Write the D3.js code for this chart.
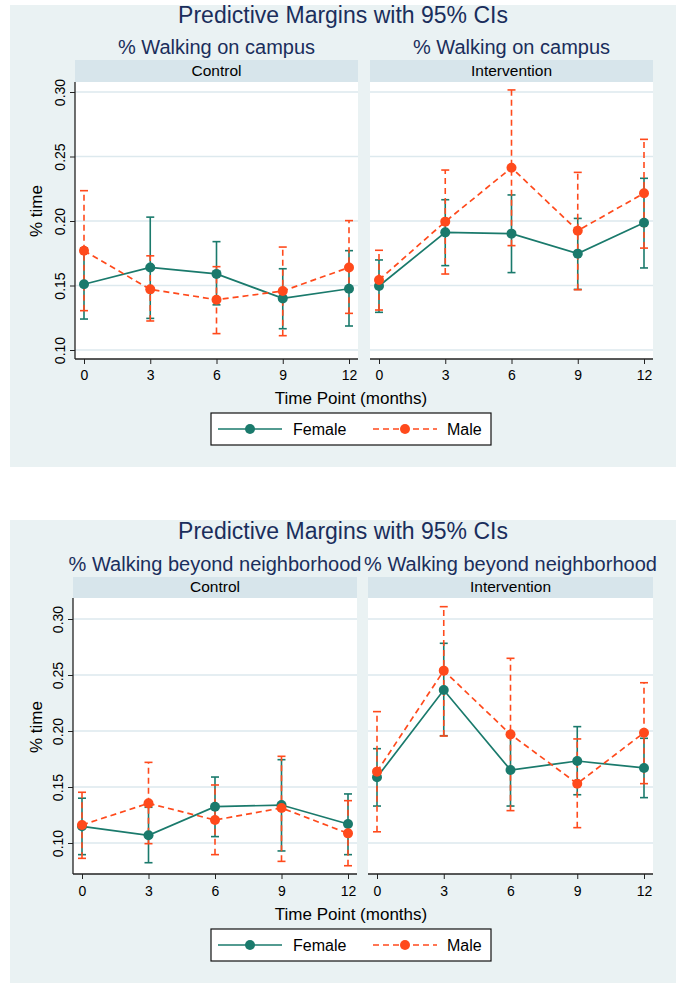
<!DOCTYPE html>
<html>
<head>
<meta charset="utf-8">
<script src="https://cdn.jsdelivr.net/npm/d3@7"></script>
<style>
  html, body { margin: 0; padding: 0; background: #ffffff; }
  svg { display: block; }
  text { font-family: "Liberation Sans", Arial, sans-serif; }
</style>
</head>
<body>
<svg id="chart" width="683" height="990"></svg>
<script>
// ---------- DATA ----------
const times = [0, 3, 6, 9, 12];
const yTicks = [0.10, 0.15, 0.20, 0.25, 0.30];
const panels = ["Control", "Intervention"];
const seriesNames = ["Female", "Male"];
const mainTitle = "Predictive Margins with 95% CIs";
const outcomeTitles = ["% Walking on campus", "% Walking beyond neighborhood"];
const yLabel = "% time";
const xLabel = "Time Point (months)";

// % Walking on campus – Control
const campusCtrlFemale   = [0.151, 0.164, 0.159, 0.140, 0.1475];
const campusCtrlFemaleLo = [0.124, 0.1245, 0.135, 0.1165, 0.1186];
const campusCtrlFemaleHi = [0.179, 0.203, 0.184, 0.163, 0.177];
const campusCtrlMale     = [0.177, 0.147, 0.139, 0.1457, 0.164];
const campusCtrlMaleLo   = [0.1305, 0.1225, 0.1127, 0.1111, 0.1284];
const campusCtrlMaleHi   = [0.2235, 0.173, 0.1646, 0.1798, 0.2003];
// % Walking on campus – Intervention
const campusIntFemale    = [0.1496, 0.1912, 0.1902, 0.1747, 0.1987];
const campusIntFemaleLo  = [0.1292, 0.1654, 0.160, 0.147, 0.1636];
const campusIntFemaleHi  = [0.1698, 0.2165, 0.2202, 0.202, 0.2331];
const campusIntMale      = [0.1543, 0.1995, 0.2413, 0.1925, 0.2215];
const campusIntMaleLo    = [0.131, 0.1589, 0.1809, 0.1467, 0.179];
const campusIntMaleHi    = [0.1773, 0.2395, 0.3016, 0.2377, 0.2633];
// % Walking beyond neighborhood – Control
const beyondCtrlFemale   = [0.1149, 0.1069, 0.1324, 0.1339, 0.117];
const beyondCtrlFemaleLo = [0.0896, 0.0824, 0.1057, 0.0929, 0.0896];
const beyondCtrlFemaleHi = [0.140, 0.1319, 0.1589, 0.1744, 0.1438];
const beyondCtrlMale     = [0.1161, 0.1354, 0.1205, 0.1313, 0.1086];
const beyondCtrlMaleLo   = [0.0863, 0.0994, 0.0896, 0.0836, 0.0797];
const beyondCtrlMaleHi   = [0.1453, 0.172, 0.1518, 0.1774, 0.1378];
// % Walking beyond neighborhood – Intervention
const beyondIntFemale    = [0.1587, 0.2366, 0.1652, 0.1732, 0.167];
const beyondIntFemaleLo  = [0.133, 0.1958, 0.133, 0.1431, 0.1405];
const beyondIntFemaleHi  = [0.1842, 0.2783, 0.197, 0.2039, 0.1935];
const beyondIntMale      = [0.1637, 0.2539, 0.197, 0.153, 0.1985];
const beyondIntMaleLo    = [0.110, 0.1955, 0.1289, 0.1137, 0.153];
const beyondIntMaleHi    = [0.2173, 0.311, 0.2649, 0.1929, 0.2431];

// ---------- STYLE ----------
const BG = "#eaf2f3", STRIP = "#d7e5eb", GRID = "#dde9ee";
const TITLE_COL = "#1a2e5c";
const COLORS = { Female: "#1a7a6c", Male: "#ff4a1c" };
const DASH = { Female: null, Male: "6,4" };

const svg = d3.select("#chart");

function series(v, lo, hi) { return times.map((t, i) => ({ t, v: v[i], lo: lo[i], hi: hi[i] })); }

const charts = [
  {
    top: 5, bottom: 467, title: outcomeTitles[0],
    titleY: 23, subY: 54, stripY0: 60, stripY1: 82, stripTextY: 76,
    plotY0: 82, plotY1: 359, y10: 350, y30: 92,
    panelsX: [[75, 358], [370, 653]],
    tickLabY: 380, xLabY: 404, yLabY: 211, legY: 413,
    data: [
      { Female: series(campusCtrlFemale, campusCtrlFemaleLo, campusCtrlFemaleHi),
        Male: series(campusCtrlMale, campusCtrlMaleLo, campusCtrlMaleHi) },
      { Female: series(campusIntFemale, campusIntFemaleLo, campusIntFemaleHi),
        Male: series(campusIntMale, campusIntMaleLo, campusIntMaleHi) }
    ]
  },
  {
    top: 520, bottom: 983, title: outcomeTitles[1],
    titleY: 538.5, subY: 571, stripY0: 577, stripY1: 598, stripTextY: 592,
    plotY0: 598, plotY1: 874, y10: 843, y30: 619,
    panelsX: [[73, 357], [368, 653]],
    tickLabY: 896, xLabY: 920, yLabY: 727, legY: 929,
    data: [
      { Female: series(beyondCtrlFemale, beyondCtrlFemaleLo, beyondCtrlFemaleHi),
        Male: series(beyondCtrlMale, beyondCtrlMaleLo, beyondCtrlMaleHi) },
      { Female: series(beyondIntFemale, beyondIntFemaleLo, beyondIntFemaleHi),
        Male: series(beyondIntMale, beyondIntMaleLo, beyondIntMaleHi) }
    ]
  }
];

charts.forEach(c => {
  const g = svg.append("g");
  g.append("rect").attr("x", 10).attr("y", c.top).attr("width", 666).attr("height", c.bottom - c.top).attr("fill", BG);

  g.append("text").attr("x", 343).attr("y", c.titleY).attr("text-anchor", "middle")
    .attr("font-size", 23).attr("fill", TITLE_COL).text(mainTitle);

  const y = d3.scaleLinear().domain([0.10, 0.30]).range([c.y10, c.y30]);

  panels.forEach((pName, pi) => {
    const [x0, x1] = c.panelsX[pi];
    const x = d3.scaleLinear().domain([0, 12]).range([x0 + 9, x1 - 9]);
    const cx = (x0 + x1) / 2;
    const pg = g.append("g");

    // outcome subtitle
    pg.append("text").attr("x", cx).attr("y", c.subY).attr("text-anchor", "middle")
      .attr("font-size", 20).attr("fill", TITLE_COL).text(c.title);
    // strip
    pg.append("rect").attr("x", x0).attr("y", c.stripY0).attr("width", x1 - x0).attr("height", c.stripY1 - c.stripY0).attr("fill", STRIP);
    pg.append("text").attr("x", cx).attr("y", c.stripTextY).attr("text-anchor", "middle")
      .attr("font-size", 15.5).attr("fill", "#000").text(pName);
    // plot area
    pg.append("rect").attr("x", x0).attr("y", c.plotY0).attr("width", x1 - x0).attr("height", c.plotY1 - c.plotY0).attr("fill", "#fff");
    // grid
    pg.selectAll("line.grid").data(yTicks).join("line").attr("class", "grid")
      .attr("x1", x0).attr("x2", x1).attr("y1", d => y(d)).attr("y2", d => y(d))
      .attr("stroke", GRID).attr("stroke-width", 1.5);

    // x axis
    const xa = pg.append("g").attr("transform", `translate(0,${c.plotY1})`)
      .call(d3.axisBottom(x).tickValues(times).tickSize(5).tickPadding(3).tickFormat(d3.format("d")));
    xa.select(".domain").attr("d", `M${x0},0H${x1}`).attr("stroke", "#222").attr("stroke-width", 1.3);
    xa.selectAll(".tick line").attr("stroke", "#222");
    xa.selectAll(".tick text").attr("font-size", 14).attr("fill", "#000")
      .attr("font-family", "Liberation Sans, Arial, sans-serif")
      .attr("dy", null).attr("y", c.tickLabY - c.plotY1);

    // y axis only on left panel
    if (pi === 0) {
      const ya = pg.append("g").attr("transform", `translate(${x0},0)`)
        .call(d3.axisLeft(y).tickValues(yTicks).tickSize(5).tickFormat(d3.format(".2f")));
      ya.select(".domain").attr("d", `M0,${c.plotY0}V${c.plotY1}`).attr("stroke", "#222").attr("stroke-width", 1.3);
      ya.selectAll(".tick line").attr("stroke", "#222");
      ya.selectAll(".tick text").attr("font-size", 14).attr("fill", "#000")
        .attr("font-family", "Liberation Sans, Arial, sans-serif")
        .attr("x", null).attr("dy", null)
        .attr("text-anchor", "middle")
        .attr("transform", "translate(-10,0) rotate(-90)");
      pg.append("text").attr("transform", `translate(42,${c.yLabY}) rotate(-90)`)
        .attr("text-anchor", "middle").attr("font-size", 17).attr("fill", "#000").text(yLabel);
    }

    const data = c.data[pi];
    // CIs
    seriesNames.forEach(s => {
      const cg = pg.append("g");
      data[s].forEach(d => {
        cg.append("line").attr("x1", x(d.t)).attr("x2", x(d.t)).attr("y1", y(d.lo)).attr("y2", y(d.hi))
          .attr("stroke", COLORS[s]).attr("stroke-width", 1.6).attr("stroke-dasharray", DASH[s]);
        [d.lo, d.hi].forEach(v => {
          cg.append("line").attr("x1", x(d.t) - 4).attr("x2", x(d.t) + 4).attr("y1", y(v)).attr("y2", y(v))
            .attr("stroke", COLORS[s]).attr("stroke-width", 1.6);
        });
      });
    });
    // lines + markers
    seriesNames.forEach(s => {
      const line = d3.line().x(d => x(d.t)).y(d => y(d.v));
      pg.append("path").datum(data[s]).attr("d", line).attr("fill", "none")
        .attr("stroke", COLORS[s]).attr("stroke-width", 1.7).attr("stroke-dasharray", DASH[s]);
      pg.selectAll(null).data(data[s]).join("circle")
        .attr("cx", d => x(d.t)).attr("cy", d => y(d.v)).attr("r", 5).attr("fill", COLORS[s]);
    });
  });

  // x label
  g.append("text").attr("x", 351).attr("y", c.xLabY).attr("text-anchor", "middle")
    .attr("font-size", 17).attr("fill", "#000").text(xLabel);

  // legend
  const lg = g.append("g").attr("transform", `translate(211,${c.legY})`);
  lg.append("rect").attr("x", 0).attr("y", 0).attr("width", 280).attr("height", 32)
    .attr("fill", "#fff").attr("stroke", "#111").attr("stroke-width", 1.2);
  const items = [{ s: "Female", lx: 7, tx: 82 }, { s: "Male", lx: 162, tx: 236 }];
  items.forEach(it => {
    lg.append("line").attr("x1", it.lx).attr("x2", it.lx + 64).attr("y1", 16).attr("y2", 16)
      .attr("stroke", COLORS[it.s]).attr("stroke-width", 1.7).attr("stroke-dasharray", DASH[it.s]);
    lg.append("circle").attr("cx", it.lx + 32).attr("cy", 16).attr("r", 5).attr("fill", COLORS[it.s]);
    lg.append("text").attr("x", it.tx).attr("y", 22).attr("font-size", 16).attr("fill", "#000").text(it.s);
  });
});
</script>
</body>
</html>
